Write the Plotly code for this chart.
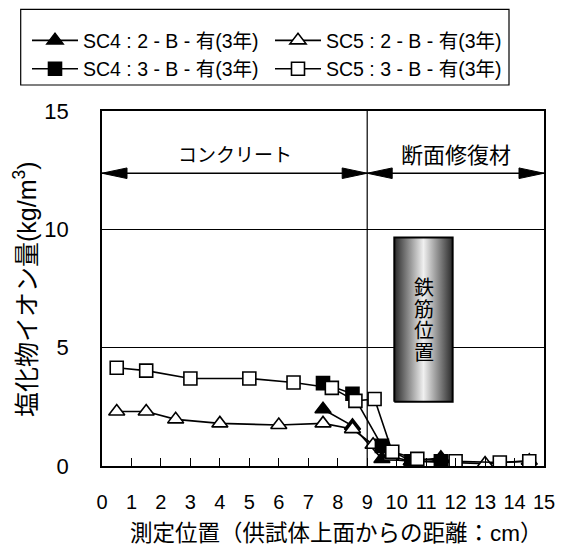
import plotly.graph_objects as go

# ---- data ----
sc4_2_x = [7.5, 8.5, 9.5, 10.5, 11.5]
sc4_2_y = [2.4, 1.7, 0.3, 0.2, 0.35]
sc5_2_x = [0.5, 1.5, 2.5, 4.0, 6.0, 7.5, 8.5, 9.2, 9.8, 10.5, 13.0, 14.5]
sc5_2_y = [2.3, 2.3, 1.97, 1.8, 1.73, 1.8, 1.56, 0.9, 0.4, 0.2, 0.1, 0.22]
sc4_3_x = [7.5, 8.5, 9.5, 10.5, 11.5]
sc4_3_y = [3.5, 3.05, 0.85, 0.2, 0.2]
sc5_3_x = [0.5, 1.5, 3.0, 5.0, 6.5, 7.8, 8.6, 9.25, 9.85, 10.7, 12.0, 13.5, 14.5]
sc5_3_y = [4.15, 4.03, 3.7, 3.7, 3.53, 3.3, 2.75, 2.83, 0.6, 0.3, 0.2, 0.15, 0.2]

names = ["SC4 : 2 - B - 有(3年)", "SC5 : 2 - B - 有(3年)",
         "SC4 : 3 - B - 有(3年)", "SC5 : 3 - B - 有(3年)"]
x_ticks = list(range(0, 16))
y_ticks = [0, 5, 10, 15]

zones = [(0, 9, "コンクリート", 19), (9, 15, "断面修復材", 22)]
boundary_x = 9
rebar_x = [9.92, 11.9]
rebar_y = [2.72, 9.66]
rebar_text = ["鉄", "筋", "位", "置"]
arrow_y = 12.37
label_y = 13.1

FONT = "Liberation Sans, Arial, Noto Sans CJK JP, sans-serif"

# page geometry (the page body has an 8px margin, so the figure is shrunk by it)
OFF = 8
PAGE_W, PAGE_H = 565, 548
W, H = PAGE_W - OFF, PAGE_H - OFF
PL, PR, PT, PB = 102, 544, 111, 466          # plot area in page pixels
ML, MR, MT, MB = PL - OFF, PAGE_W - PR, PT - OFF, PAGE_H - PB
PW, PH = PR - PL, PB - PT


def px_x(p):
    return (p - PL) / PW


def px_y(p):
    return (PB - p) / PH


fig = go.Figure()

# rebar box (gradient)
fig.add_trace(go.Scatter(
    x=[rebar_x[0], rebar_x[1], rebar_x[1], rebar_x[0], rebar_x[0]],
    y=[rebar_y[0], rebar_y[0], rebar_y[1], rebar_y[1], rebar_y[0]],
    mode="lines", fill="toself",
    line=dict(color="black", width=2),
    fillgradient=dict(type="horizontal", start=rebar_x[0], stop=rebar_x[1],
                      colorscale=[[0, "#2a2a2a"], [0.5, "#f0f0f0"], [1, "#2a2a2a"]]),
    showlegend=False, hoverinfo="skip"))

series = [
    (sc4_2_x, sc4_2_y, "triangle-up", "black", 14, "legend"),
    (sc5_2_x, sc5_2_y, "triangle-up", "white", 14, "legend2"),
    (sc4_3_x, sc4_3_y, "square", "black", 13, "legend3"),
    (sc5_3_x, sc5_3_y, "square", "white", 13, "legend4"),
]
for (xs, ys, sym, fc, sz, lg), nm in zip(series, names):
    fig.add_trace(go.Scatter(
        x=xs, y=ys, name=nm, mode="lines+markers", legend=lg,
        line=dict(color="black", width=1.6),
        marker=dict(symbol=sym, color=fc, size=sz,
                    line=dict(color="black", width=1.6))))

# arrowhead size in data units
HL = 25 / (PW / 15)
HW = 5.3 / (PH / 15)

shapes = [dict(type="line", xref="x", yref="y", x0=boundary_x, x1=boundary_x,
               y0=0, y1=15, line=dict(color="black", width=1.2))]
annotations = []
for x0, x1, txt, fs in zones:
    shapes.append(dict(type="line", xref="x", yref="y", x0=x0, x1=x1, y0=arrow_y,
                       y1=arrow_y, line=dict(color="black", width=1.3)))
    shapes.append(dict(type="path", xref="x", yref="y", fillcolor="black",
                       line=dict(color="black", width=1),
                       path=f"M{x0},{arrow_y} L{x0 + HL},{arrow_y + HW} "
                            f"L{x0 + HL},{arrow_y - HW} Z"))
    shapes.append(dict(type="path", xref="x", yref="y", fillcolor="black",
                       line=dict(color="black", width=1),
                       path=f"M{x1},{arrow_y} L{x1 - HL},{arrow_y + HW} "
                            f"L{x1 - HL},{arrow_y - HW} Z"))
    annotations.append(dict(x=(x0 + x1) / 2, y=label_y, xref="x", yref="y", text=txt,
                            showarrow=False,
                            font=dict(size=fs, color="black", family=FONT)))

# legend frame
shapes.append(dict(type="rect", xref="paper", yref="paper",
                   x0=px_x(20.7), x1=px_x(509), y0=px_y(85), y1=px_y(9.3),
                   line=dict(color="black", width=1.2), fillcolor="rgba(0,0,0,0)"))

# rebar vertical text
step = 21.8 / (PH / 15)
cy = (rebar_y[0] + rebar_y[1]) / 2 - 0.04
for i, ch in enumerate(rebar_text):
    annotations.append(dict(x=(rebar_x[0] + rebar_x[1]) / 2 + 0.03,
                            y=cy + (1.5 - i) * step, xref="x", yref="y", text=ch,
                            showarrow=False,
                            font=dict(size=20, color="black", family=FONT)))

# axis titles
annotations.append(dict(x=px_x(336), y=px_y(533.5), xref="paper", yref="paper",
                        text="測定位置（供試体上面からの距離：cm）", showarrow=False,
                        xanchor="center", yanchor="middle",
                        font=dict(size=22.5, color="black", family=FONT)))
annotations.append(dict(x=px_x(25), y=px_y(289), xref="paper", yref="paper",
                        text="塩化物イオン量(kg/m<sup>3</sup>)", showarrow=False,
                        textangle=-90, xanchor="center", yanchor="middle",
                        font=dict(size=25, color="black", family=FONT)))

legend_common = dict(orientation="h", xanchor="left", yanchor="middle",
                     borderwidth=0, bgcolor="rgba(0,0,0,0)",
                     font=dict(size=19.5, family=FONT, color="black"), itemwidth=46)
col_x = [27, 270]
row_y = [40.7, 69]

fig.update_layout(
    width=W, height=H,
    margin=dict(l=ML, r=MR, t=MT, b=MB, autoexpand=False),
    paper_bgcolor="white", plot_bgcolor="white",
    font=dict(family=FONT, size=19, color="black"),
    shapes=shapes, annotations=annotations,
    legend=dict(x=px_x(col_x[0]), y=px_y(row_y[0]), **legend_common),
    legend2=dict(x=px_x(col_x[1]), y=px_y(row_y[0]), **legend_common),
    legend3=dict(x=px_x(col_x[0]), y=px_y(row_y[1]), **legend_common),
    legend4=dict(x=px_x(col_x[1]), y=px_y(row_y[1]), **legend_common),
    xaxis=dict(range=[0, 15], tickvals=x_ticks, ticktext=[str(v) for v in x_ticks],
               ticks="inside", ticklen=8, tickcolor="black", tickwidth=1.2,
               showline=True, linecolor="black", linewidth=1.6, mirror=True,
               showgrid=False, zeroline=False, ticklabelstandoff=17,
               tickfont=dict(size=20, color="black")),
    yaxis=dict(range=[0, 15], tickvals=y_ticks, ticks="",
               showline=True, linecolor="black", linewidth=1.6, mirror=True,
               showgrid=True, gridcolor="black", gridwidth=1, zeroline=False,
               ticklabelstandoff=27, tickfont=dict(size=22, color="black")),
)

fig.write_html("out.html")
